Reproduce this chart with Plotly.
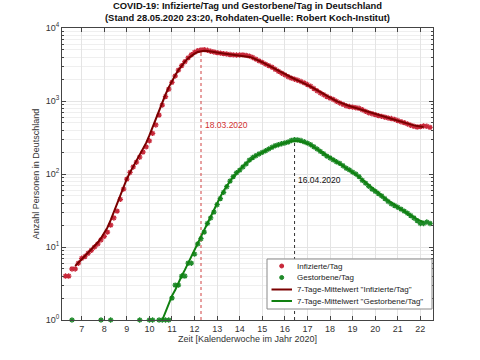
import pandas as pd
import plotly.graph_objects as go

# ---------------- data ----------------
start_date = "2020-02-05"          # first plotted day
week_ref = "2019-12-30"            # Monday of calendar week 1 / 2020

infizierte = [
    4, 4, 5, 5, 6, 7, 7.4, 8.2, 9, 10,
    11, 12.5, 14, 16, 20, 25, 31, 45, 62, 85,
    105, 125, 145, 170, 200, 235, 285, 360, 470, 640,
    880, 1150, 1450, 1800, 2200, 2650, 3050, 3450, 3900, 4300,
    4650, 4900, 5000, 5050, 4950, 4800, 4700, 4600, 4520, 4450,
    4400, 4330, 4280, 4260, 4270, 4280, 4220, 4120, 3950, 3750,
    3550, 3380, 3200, 3050, 2900, 2720, 2550, 2400, 2280, 2150,
    2060, 1990, 1920, 1850, 1770, 1680, 1590, 1480, 1380, 1290,
    1220, 1150, 1095, 1050, 990, 940, 900, 860, 840, 825,
    810, 795, 760, 720, 690, 670, 650, 630, 615, 600,
    585, 575, 560, 540, 520, 505, 485, 465, 450, 440,
    445, 455, 450, 435, 410,
]

gestorbene = [
    0, 0, 1, 0, 0, 0, 0, 0, 0, 0,
    0, 1, 0, 0, 1, 0, 0, 0, 0, 0,
    0, 0, 0, 1, 0, 0, 1, 1, 0, 1,
    1, 1, 1,
    2, 3, 3, 4, 4, 6, 6, 8, 11, 13,
    16, 21, 25, 30, 38, 46, 56, 67, 80, 92,
    104, 113, 125, 138, 155, 168, 178, 188, 198, 208,
    220, 232, 244, 252, 260, 266, 274, 288, 296, 293,
    287, 276, 265, 252, 236, 220, 204, 190, 176, 166,
    156, 147, 140, 130, 120, 114, 106, 100, 92, 82,
    75, 68, 62, 58, 54, 50, 46, 42, 39, 37,
    35, 33, 31, 29, 27, 25, 23, 21, 21, 22,
    21, 21,
]

peak_inf_date = "2020-03-18"
peak_inf_label = "18.03.2020"
peak_tot_date = "2020-04-16"
peak_tot_label = "16.04.2020"

legend_labels = ["Infizierte/Tag", "Gestorbene/Tag",
                 '7-Tage-Mittelwert "Infizierte/Tag"',
                 '7-Tage-Mittelwert "Gestorbene/Tag"']

x_ticks = list(range(7, 23))
y_tickvals = [1, 10, 100, 1000, 10000]
y_ticktext = ["10<sup>0</sup>", "10<sup>1</sup>", "10<sup>2</sup>", "10<sup>3</sup>", "10<sup>4</sup>"]

# ---------------- derived ----------------
ref = pd.Timestamp(week_ref)
dates = pd.date_range(start_date, periods=len(infizierte), freq="D")
kw = 1 + (dates - ref).days / 7


def to_kw(d):
    return 1 + (pd.Timestamp(d) - ref).days / 7


s_inf = pd.Series(infizierte, dtype=float)
s_tot = pd.Series(gestorbene, dtype=float)
avg_inf = s_inf.rolling(7, center=True).mean()
avg_tot = s_tot.rolling(7, center=True).mean()
tot_plot = s_tot.where(s_tot > 0)

RED_DOT = "#c8283a"
RED_LINE = "#7a0000"
GRN_DOT = "#1f8a2a"
GRN_LINE = "#108010"
FONT = "Liberation Sans, Arial, sans-serif"

W, H = 480, 360
ML, MR, MT, MB = 62, 47, 28, 40
PW, PH = W - ML - MR, H - MT - MB


def px(xs):
    return (xs - ML) / PW


def py(ys):
    return (H - MB - ys) / PH


fig = go.Figure()

x_pi = to_kw(peak_inf_date)
x_pt = to_kw(peak_tot_date)
fig.add_trace(go.Scatter(x=[x_pi, x_pi], y=[1, max(infizierte)], mode="lines",
                         line=dict(color="#d04040", width=1, dash="dot"),
                         showlegend=False, hoverinfo="skip"))
fig.add_trace(go.Scatter(x=[x_pt, x_pt], y=[1, max(gestorbene)], mode="lines",
                         line=dict(color="#333333", width=1, dash="dot"),
                         showlegend=False, hoverinfo="skip"))

mk = dict(symbol="asterisk-open", size=4.5)
fig.add_trace(go.Scatter(x=kw, y=s_inf, mode="markers", name=legend_labels[0],
                         marker=dict(**mk, color=RED_DOT, line=dict(color=RED_DOT, width=1.3)),
                         cliponaxis=False, showlegend=False))
fig.add_trace(go.Scatter(x=kw, y=tot_plot, mode="markers", name=legend_labels[1],
                         marker=dict(**mk, color=GRN_DOT, line=dict(color=GRN_DOT, width=1.3)),
                         cliponaxis=False, showlegend=False))
fig.add_trace(go.Scatter(x=kw, y=avg_inf, mode="lines", name=legend_labels[2],
                         line=dict(color=RED_LINE, width=2), showlegend=False))
fig.add_trace(go.Scatter(x=kw, y=avg_tot, mode="lines", name=legend_labels[3],
                         line=dict(color=GRN_LINE, width=2), showlegend=False))

fig.add_annotation(x=x_pi + 0.1, y=2.67, xref="x", yref="y", text=peak_inf_label,
                   showarrow=False, xanchor="left", yanchor="middle",
                   font=dict(family=FONT, size=8.5, color="#d03030"))
fig.add_annotation(x=x_pt + 0.05, y=1.92, xref="x", yref="y", text=peak_tot_label,
                   showarrow=False, xanchor="left", yanchor="middle",
                   font=dict(family=FONT, size=8.5, color="#111111"))

# title (two lines) above the plot area
fig.add_annotation(x=0.5, y=1, xref="paper", yref="paper", yanchor="bottom", yshift=3,
                   showarrow=False, align="center",
                   text="<b>COVID-19: Infizierte/Tag und Gestorbene/Tag in Deutschland</b><br>"
                        "<b>(Stand 28.05.2020 23:20, Rohdaten-Quelle: Robert Koch-Institut)</b>",
                   font=dict(family=FONT, size=9.4, color="#111111"))

# compact legend (MATLAB style), positions in screen pixels
box = dict(x0=267, x1=432, y0=259, y1=309)
shapes = [dict(type="rect", xref="paper", yref="paper",
               x0=px(box["x0"]), x1=px(box["x1"]), y0=py(box["y1"]), y1=py(box["y0"]),
               line=dict(color="#8a8a8a", width=1), fillcolor="white", layer="above")]
rows = [266, 277.5, 289.5, 301]
colors = [RED_DOT, GRN_DOT, RED_LINE, GRN_LINE]
for i, (ry, c) in enumerate(zip(rows, colors)):
    if i < 2:
        r = 2.0
        shapes.append(dict(type="circle", xref="paper", yref="paper",
                           x0=px(281.7 - r), x1=px(281.7 + r), y0=py(ry + r), y1=py(ry - r),
                           line=dict(color=c, width=1), fillcolor=c, layer="above"))
    else:
        shapes.append(dict(type="line", xref="paper", yref="paper",
                           x0=px(271.5), x1=px(292), y0=py(ry), y1=py(ry),
                           line=dict(color=c, width=2), layer="above"))
    fig.add_annotation(x=px(295), y=py(ry), xref="paper", yref="paper",
                       text=legend_labels[i], showarrow=False,
                       xanchor="left", yanchor="middle",
                       font=dict(family=FONT, size=8, color="#222222"))

fig.update_layout(
    width=W, height=H,
    margin=dict(l=ML, r=MR, t=MT, b=MB),
    paper_bgcolor="white", plot_bgcolor="white",
    font=dict(family=FONT, size=9, color="#333333"),
    showlegend=False,
    shapes=shapes,
)

fig.update_xaxes(
    range=[6.13, 22.56], tickvals=x_ticks, ticktext=[str(t) for t in x_ticks],
    showgrid=True, gridcolor="#e4e4e4", gridwidth=1,
    showline=True, linecolor="#444444", linewidth=1, mirror="ticks",
    ticks="inside", ticklen=4, tickcolor="#444444",
    zeroline=False, automargin=False,
    title=dict(text="Zeit [Kalenderwoche im Jahr 2020]", standoff=2,
               font=dict(family=FONT, size=9, color="#333333")),
    tickfont=dict(family=FONT, size=9, color="#333333"),
)
fig.update_yaxes(
    type="log", range=[0, 4], tickvals=y_tickvals, ticktext=y_ticktext,
    showgrid=True, gridcolor="#e4e4e4", gridwidth=1,
    showline=True, linecolor="#444444", linewidth=1, mirror="ticks",
    ticks="inside", ticklen=4, tickcolor="#444444",
    minor=dict(dtick="D1", showgrid=True, gridcolor="#efefef", ticks="inside",
               ticklen=2, tickcolor="#444444"),
    zeroline=False, automargin=False,
    title=dict(text="Anzahl Personen in Deutschland", standoff=4,
               font=dict(family=FONT, size=9, color="#333333")),
    tickfont=dict(family=FONT, size=9, color="#333333"),
)

fig.write_html("out.html",
               config={"displayModeBar": False},
               post_script="document.body.style.margin='0';document.body.style.overflow='hidden';")
